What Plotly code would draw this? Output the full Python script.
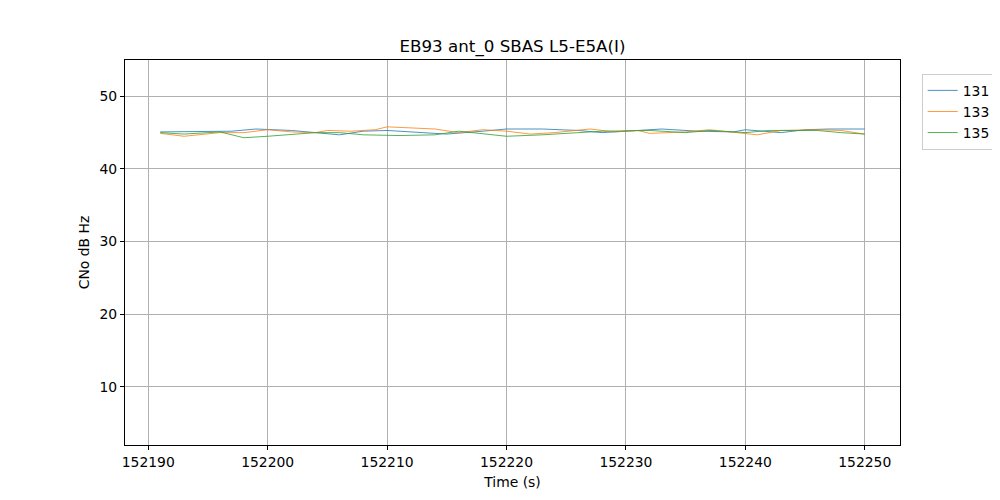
import plotly.graph_objects as go

title = "EB93 ant_0 SBAS L5-E5A(I)"
x_label = "Time (s)"
y_label = "CNo dB Hz"

t131 = [152191, 152194, 152197, 152199, 152202, 152204, 152206, 152208, 152210, 152213, 152215,
        152218, 152220, 152223, 152226, 152228, 152231, 152233, 152236, 152239, 152240, 152242,
        152243, 152245, 152247, 152250]
v131 = [45.1, 45.2, 45.2, 45.5, 45.3, 45.0, 44.7, 45.2, 45.3, 45.0, 44.8,
        45.2, 45.5, 45.5, 45.3, 45.0, 45.3, 45.5, 45.2, 45.1, 45.4, 45.2,
        45.0, 45.4, 45.5, 45.5]

t133 = [152191, 152193, 152196, 152198, 152200, 152202, 152204, 152205, 152207, 152209, 152210,
        152212, 152214, 152216, 152218, 152220, 152222, 152224, 152227, 152229, 152231, 152232,
        152235, 152237, 152239, 152241, 152243, 152246, 152248, 152250]
v133 = [44.9, 44.5, 45.0, 45.0, 45.4, 45.1, 45.0, 45.3, 45.2, 45.4, 45.8,
        45.6, 45.5, 45.0, 45.4, 45.2, 44.8, 45.0, 45.5, 45.1, 45.3, 44.9,
        45.1, 45.4, 45.1, 44.7, 45.3, 45.4, 45.3, 44.8]

t135 = [152191, 152193, 152196, 152198, 152200, 152202, 152204, 152206, 152208, 152211, 152214,
        152216, 152219, 152220, 152223, 152226, 152228, 152232, 152235, 152237, 152240, 152242,
        152244, 152246, 152248, 152250]
v135 = [45.0, 44.8, 45.1, 44.3, 44.5, 44.7, 45.0, 45.0, 44.7, 44.6, 44.7,
        45.2, 44.6, 44.5, 44.7, 45.0, 45.2, 45.3, 45.0, 45.3, 45.0, 45.3,
        45.3, 45.3, 45.0, 44.8]

names = ["131", "133", "135"]
colors = ["#1f77b4", "#ff7f0e", "#2ca02c"]
x_ticks = [152190, 152200, 152210, 152220, 152230, 152240, 152250]
y_ticks = [10, 20, 30, 40, 50]

fig = go.Figure()
for name, tt, vv, c in zip(names, [t131, t133, t135], [v131, v133, v135], colors):
    fig.add_trace(go.Scatter(x=tt, y=vv, mode="lines", name=name,
                             line=dict(color=c, width=0.8)))

axis_common = dict(showline=True, linecolor="black", linewidth=1, mirror=True,
                   ticks="outside", ticklen=4, tickcolor="black",
                   showgrid=True, gridcolor="#b0b0b0", gridwidth=1, zeroline=False,
                   automargin=False,
                   tickfont=dict(family="DejaVu Sans", size=13.9, color="black"))

# page body has an 8px offset; margins compensate so the plot lands at 125..900 x 60..445
L, T, PW, PH = 117, 52, 775, 385
fig.update_layout(
    width=1000, height=500,
    paper_bgcolor="white", plot_bgcolor="white",
    margin=dict(l=L, r=1000 - L - PW, t=T, b=500 - T - PH, autoexpand=False),
    font=dict(family="DejaVu Sans", size=13.9, color="black"),
    title=dict(text=title, x=(L + PW / 2) / 1000, xanchor="center",
               y=1 - 38 / 500, yanchor="middle", font=dict(size=16.7)),
    xaxis=dict(range=[152188.05, 152252.95], tickvals=x_ticks,
               ticktext=[str(v) for v in x_ticks],
               title=dict(text=x_label, standoff=8, font=dict(size=13.9)), **axis_common),
    yaxis=dict(range=[2.0, 55.0], tickvals=y_ticks,
               title=dict(text=y_label, standoff=6, font=dict(size=13.9)), **axis_common),
    legend=dict(x=1.028, y=0.964, xanchor="left", yanchor="top",
                bordercolor="#cccccc", borderwidth=1, bgcolor="white",
                font=dict(size=13.9), tracegroupgap=0, itemwidth=30),
    showlegend=True,
)

fig.write_html("out.html")
